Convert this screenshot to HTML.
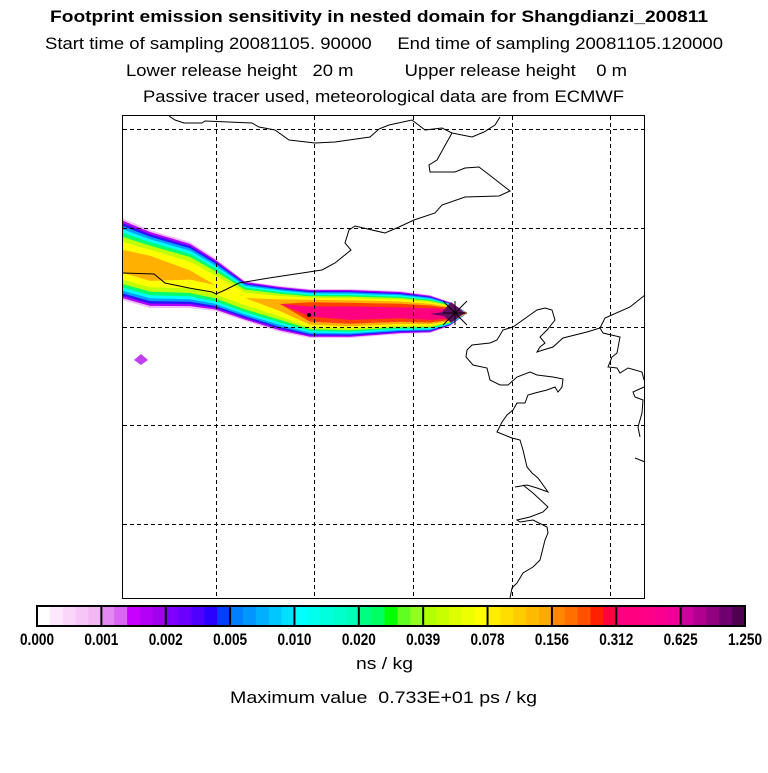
<!DOCTYPE html>
<html><head><meta charset="utf-8"><style>
body{margin:0;background:#fff;width:768px;height:768px;overflow:hidden;font-family:"Liberation Sans",sans-serif}
text{white-space:pre}
</style></head><body>
<svg id="svg" width="768" height="768" viewBox="0 0 768 768" xmlns="http://www.w3.org/2000/svg">
<g font-family="Liberation Sans, sans-serif" font-size="16.5" fill="#000" xml:space="preserve" lengthAdjust="spacingAndGlyphs">
<text x="50" y="22" font-weight="bold" textLength="658" lengthAdjust="spacingAndGlyphs">Footprint emission sensitivity in nested domain for Shangdianzi_200811</text>
<text x="45" y="49" textLength="678" lengthAdjust="spacingAndGlyphs">Start time of sampling 20081105. 90000     End time of sampling 20081105.120000</text>
<text x="126" y="76" textLength="501" lengthAdjust="spacingAndGlyphs">Lower release height   20 m          Upper release height    0 m</text>
<text x="143" y="102" textLength="481" lengthAdjust="spacingAndGlyphs">Passive tracer used, meteorological data are from ECMWF</text>
<text x="356" y="669" textLength="57" lengthAdjust="spacingAndGlyphs">ns / kg</text>
<text x="230" y="703" textLength="307" lengthAdjust="spacingAndGlyphs">Maximum value  0.733E+01 ps / kg</text>
</g>
<g id="plume"></g>
<g id="grid"></g>
<g id="coast" fill="none" stroke="#000" stroke-width="1"></g>
<g id="marks"></g>
<rect x="122.5" y="115.5" width="522" height="483" fill="none" stroke="#000" stroke-width="1"/>
<g id="cbar"></g>
</svg>
<script>
const NS="http://www.w3.org/2000/svg";
function mk(tag,attrs,parent){const e=document.createElementNS(NS,tag);for(const k in attrs)e.setAttribute(k,attrs[k]);parent.appendChild(e);return e;}
// plume data: stations along the plume
const stX=[122,150,190,215,245,280,310,350,400,430,450,466];
const stC=[262,268,275,285,298,304,311,313,313,314,314,313];
const stTop=[44,38,33,27,17,18,22,24,22,19,12,1];
const stBot=[38,40,33,26,23,28,27,25,21,19,12,1];
const stLevel=[8.5,8.7,8.1,7.8,7.6,8.4,10.3,10.6,10.5,10.8,11.5,11.5];
const layerColors=["#eec0fa","#b000ff","#3010ff","#00a0ff","#00ffff","#00ff70","#c0ff00","#ffff00","#ffb000","#ff4000","#ff0080","#600060"];
const gridX=[216,314,413,512,610];
const gridY=[129,228,327,425,524];
const cbLabels=["0.000","0.001","0.002","0.005","0.010","0.020","0.039","0.078","0.156","0.312","0.625","1.250"];
const cbColors=[["#ffffff","#fde8fd","#fad6fa","#f6c6f6","#f2b6f2"],["#e488f4","#d866f2","#c800ff","#b400f4","#a000ec"],["#8000ff","#6c00ff","#5000ff","#2a00ff","#0040ff"],["#0080ff","#0098ff","#00b0ff","#00c8ff","#00e0ff"],["#00ffff","#00ffee","#00ffdd","#00ffcc","#00ffbb"],["#00ff80","#00ff60","#00ff00","#60ff20","#90ff20"],["#b0ff00","#c8ff00","#ddff00","#eeff00","#ffff00"],["#ffee00","#ffdd00","#ffcc00","#ffbb00","#ffaa00"],["#ff8800","#ff7000","#ff5000","#ff2000","#ff0040"],["#ff0080","#ff0080","#ff0088","#f80090","#f00098"],["#d000a0","#b00090","#900080","#700070","#500050"]];
const coastLines=[
[[169,116],[175,120],[184,123],[202,123],[205,121],[252,123],[259,127],[275,130],[289,140],[315,143],[335,142],[370,137],[379,129],[389,125],[412,120],[425,130],[442,128],[452,133],[472,137],[484,132],[495,125],[500,117]],
[[452,133],[437,160],[429,165],[430,172],[455,172],[465,168],[479,167],[492,177],[510,191],[499,196],[465,197],[442,205],[435,213],[414,220],[399,227],[385,233],[355,226],[349,230],[345,243],[351,250],[335,263],[322,270],[269,278],[239,283],[225,290],[216,294],[212,292],[189,288],[165,283],[154,274],[122,273]],
[[645,295],[630,307],[605,318],[600,328],[603,333],[620,337],[617,353],[612,357],[608,367],[617,368],[620,373],[628,368],[642,372],[644,380]],
[[600,328],[587,332],[563,338],[553,347],[543,350],[537,352],[540,347],[545,343],[540,337],[547,330],[555,320],[552,310],[545,308],[537,310],[527,317],[513,327],[503,330],[497,340],[490,343],[472,345],[467,350],[466,357],[473,365],[487,368],[490,380],[500,385],[508,385],[517,377],[530,372],[537,375],[553,377],[563,379],[562,387],[558,392],[555,387],[547,390],[535,393],[528,395],[525,403],[517,403],[513,410],[507,415],[502,422],[497,432],[512,438],[520,440],[523,450],[527,467],[532,473],[538,478],[548,492],[537,488],[527,485],[515,487]],
[[523,485],[533,493],[548,507],[543,512],[530,517],[517,520],[520,522],[533,520],[547,527],[548,533],[545,540],[540,560],[533,567],[523,573],[517,583],[512,588],[510,598]],
[[644,387],[633,392],[635,397],[643,400],[642,413],[638,427],[640,437]],
[[635,458],[645,462]]
];
// plume layers
const plume=document.getElementById('plume');
layerColors.forEach((col,k)=>{
  const top=[],bot=[];
  for(let i=0;i<stX.length;i++){
    const L=stLevel[i];
    const f=k<L?Math.pow(1-k/L,0.45):0;
    top.push([stX[i],stC[i]-stTop[i]*f]);
    bot.push([stX[i],stC[i]+stBot[i]*f]);
  }
  const pts=top.concat(bot.reverse()).map(p=>p[0].toFixed(1)+','+p[1].toFixed(1)).join(' ');
  const p=mk('polygon',{points:pts,fill:col,'stroke-linejoin':'round'},plume);
  
  
});
const blob=mk('polygon',{points:"134,360 141,354 148,360 141,365",fill:"#c040f0"},plume);


// grid
const grid=document.getElementById('grid');
gridX.forEach(x=>{const l=mk('line',{x1:x+.5,y1:116,x2:x+.5,y2:598,stroke:'#000','stroke-dasharray':'4,3'},grid);

});
gridY.forEach(y=>{const l=mk('line',{x1:123,y1:y+.5,x2:644,y2:y+.5,stroke:'#000','stroke-dasharray':'4,3'},grid);

});
// coast
const coast=document.getElementById('coast');
coastLines.forEach(line=>{const p=mk('polyline',{points:line.map(q=>q.join(',')).join(' ')},coast);

});
// release marker
const marks=document.getElementById('marks');
const dm=mk('polygon',{points:"441,313 451,302 465,313 451,323",fill:"#601060"},marks);


const star=mk('path',{d:"M443,301L467,325M443,325L467,301M443,313H467M455,301V325",stroke:"#000","stroke-width":"1"},marks);


const dot=mk('circle',{cx:309,cy:315,r:2,fill:"#000"},marks);


// colorbar
const cb=document.getElementById('cbar');
const x0=37,x1=745,y0=606,h=20,segW=(x1-x0)/cbColors.length;
cbColors.forEach((seg,i)=>{
  seg.forEach((c,j)=>{const r=mk('rect',{x:x0+i*segW+j*segW/seg.length,y:y0,width:segW/seg.length+0.6,height:h,fill:c},cb);
  
  });
});
cbColors.forEach((seg,i)=>{if(i>0){const l=mk('line',{x1:x0+i*segW,y1:y0,x2:x0+i*segW,y2:y0+h,stroke:'#000','stroke-width':2},cb);

}});
const fr=mk('rect',{x:x0,y:y0,width:x1-x0,height:h,fill:'none',stroke:'#000','stroke-width':2},cb);


cbLabels.forEach((t,i)=>{const tx=mk('text',{x:x0+i*segW-17,y:645,'font-size':'17','font-weight':'bold','font-family':'Liberation Sans, sans-serif',textLength:'34',lengthAdjust:'spacingAndGlyphs'},cb);
tx.textContent=t;

});
</script>
</body></html>
